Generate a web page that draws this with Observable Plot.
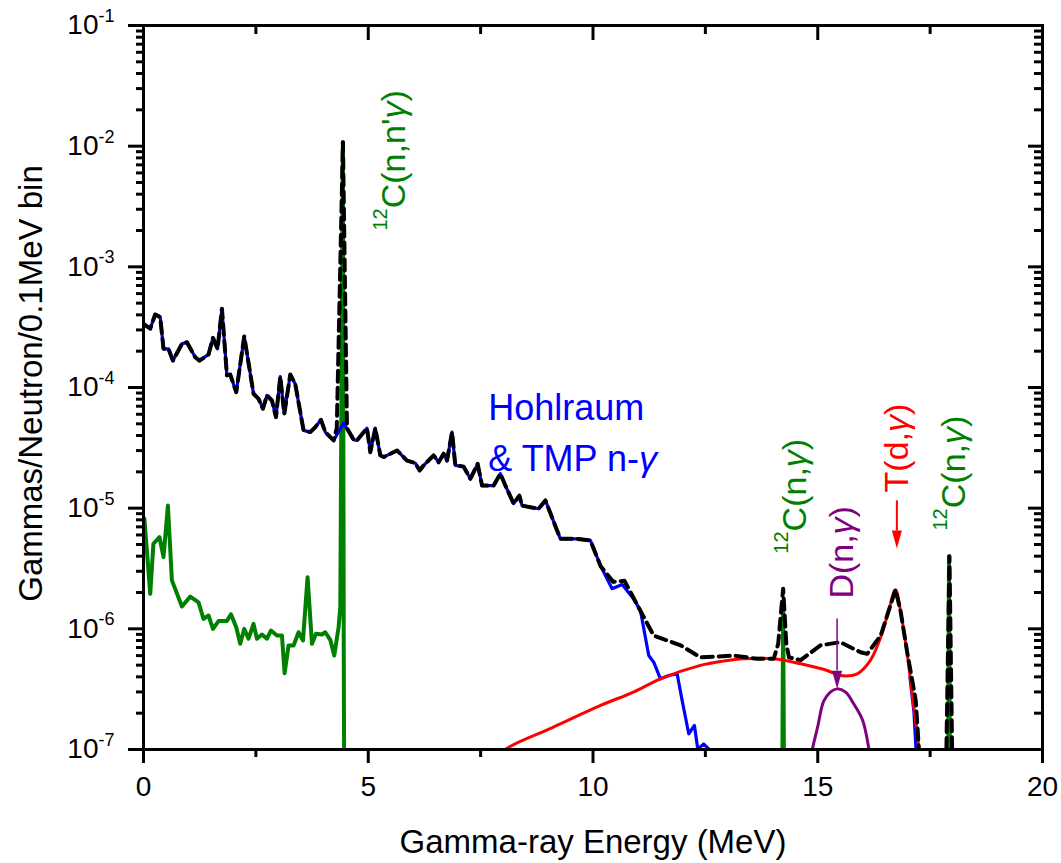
<!DOCTYPE html>
<html>
<head>
<meta charset="utf-8">
<script src="https://cdn.jsdelivr.net/npm/d3@7"></script>
<script src="https://cdn.jsdelivr.net/npm/@observablehq/plot@0.6"></script>
<style>
  body { margin: 0; background: #fff; }
</style>
</head>
<body>
<div id="chart"></div>
<script>
// ---------- DATA (energy MeV, gammas/neutron/0.1 MeV bin) ----------
const hohlraum = [
  [0.00,3.37e-4],[0.149,3.07e-4],[0.26,4.03e-4],[0.372,3.83e-4],[0.445,2.09e-4],[0.556,2.09e-4],
  [0.654,1.67e-4],[0.855,2.30e-4],[0.966,2.37e-4],[1.151,1.78e-4],[1.246,1.67e-4],[1.447,1.88e-4],
  [1.545,2.58e-4],[1.647,2.09e-4],[1.745,4.49e-4],[1.856,1.26e-4],[1.93,1.28e-4],[2.063,9.14e-5],
  [2.241,2.65e-4],[2.448,8.87e-5],[2.56,8.06e-5],[2.657,6.67e-5],[2.746,8.59e-5],[2.858,7.80e-5],
  [2.947,5.68e-5],[3.043,1.23e-4],[3.132,6.05e-5],[3.265,1.28e-4],[3.376,1.07e-4],[3.561,4.41e-5],
  [3.71,4.27e-5],[3.822,4.69e-5],[3.948,5.40e-5],[4.044,4.27e-5],[4.229,3.64e-5],[4.451,5.06e-5],
  [4.674,3.69e-5],[4.75,3.64e-5],[4.972,4.60e-5],[5.046,2.91e-5],[5.157,4.60e-5],[5.268,2.74e-5],
  [5.342,2.65e-5],[5.64,3.01e-5],[5.862,2.48e-5],[6.047,2.36e-5],[6.143,2.05e-5],[6.232,2.26e-5],
  [6.454,2.74e-5],[6.566,2.40e-5],[6.677,2.83e-5],[6.753,2.48e-5],[6.864,4.27e-5],[6.937,2.26e-5],
  [7.122,2.21e-5],[7.271,1.75e-5],[7.434,2.33e-5],[7.532,1.54e-5],[7.79,1.54e-5],[7.939,1.93e-5],
  [8.05,1.54e-5],[8.235,1.09e-5],[8.362,1.27e-5],[8.422,1.05e-5],[8.791,9.88e-6],[8.941,1.16e-5],
  [9.274,5.57e-6],[9.646,5.57e-6],[9.942,5.40e-6],[10.165,3.35e-6],[10.425,2.15e-6],[10.648,2.33e-6],
  [10.906,1.77e-6],[11.055,1.42e-6],[11.24,6.01e-7],[11.351,5.29e-7],[11.5,3.85e-7],[11.685,4.10e-7],
  [11.872,4.24e-7],[11.983,2.55e-7],[12.13,1.35e-7],[12.257,1.58e-7],[12.33,1.01e-7],[12.464,1.11e-7],
  [12.575,1.01e-7],[12.65,8e-8]
];
const hohlraumHigh = [[17.05,4.0e-7],[17.14,2.04e-7],[17.2,8e-8]];

const carbon = [
  [0.02,8.2e-6],[0.15,1.95e-6],[0.22,5.07e-6],[0.356,5.75e-6],[0.445,3.93e-6],[0.543,1.05e-5],
  [0.632,2.52e-6],[0.855,1.53e-6],[1.04,1.85e-6],[1.224,1.66e-6],[1.335,1.21e-6],[1.447,1.29e-6],
  [1.545,1.0e-6],[1.669,1.16e-6],[1.856,1.16e-6],[1.945,1.32e-6],[2.063,1.03e-6],[2.152,7.52e-7],
  [2.241,1.0e-6],[2.337,8.28e-7],[2.448,1.10e-6],[2.524,8.28e-7],[2.635,8.98e-7],[2.746,8.28e-7],
  [2.835,9.68e-7],[2.969,8.81e-7],[3.08,8.81e-7],[3.139,4.29e-7],[3.227,7.27e-7],[3.339,7.27e-7],
  [3.45,9.37e-7],[3.548,8.0e-7],[3.65,2.68e-6],[3.748,7.52e-7],[3.837,9.1e-7],[3.97,8.98e-7],
  [4.044,9.37e-7],[4.155,8.11e-7],[4.244,6.01e-7],[4.34,1.03e-6],[4.378,1.51e-6],[4.435,1.08e-2],
  [4.455,7e-7],[4.465,5e-8],[14.21,5e-8],[14.23,1.61e-6],[14.25,5e-8],[17.9,5e-8],
  [17.92,4.0e-6],[17.94,5e-8],[20,5e-8]
];

const tdGamma = [
  [7.9,8.5e-8],[8.05,1.0e-7],[9.1,1.52e-7],[10.17,2.32e-7],[10.9,2.99e-7],[11.5,3.85e-7],
  [12.39,4.98e-7],[12.9,5.4e-7],[13.35,5.65e-7],[14.02,5.65e-7],[14.62,5.13e-7],[15.21,4.52e-7],
  [15.5,4.10e-7],[15.88,4.24e-7],[16.17,5.47e-7],[16.4,8.53e-7],[16.58,1.42e-6],[16.73,2.11e-6],
  [16.84,1.42e-6],[16.99,6.21e-7],[17.1,2.90e-7],[17.25,1.04e-7],[17.35,5e-8]
];

const dnGamma = [
  [14.82,7e-8],[14.88,1.0e-7],[15.0,1.55e-7],[15.13,2.5e-7],[15.28,2.99e-7],[15.43,3.18e-7],
  [15.62,2.99e-7],[15.8,2.39e-7],[16.0,1.74e-7],[16.14,1.0e-7],[16.2,7e-8]
];

const totalSpike = [[4.3,4.6e-5],[4.437,1.08e-2],[4.527,4.6e-5]];
const totalTail = [
  [10.17,3.3e-6],[10.45,2.45e-6],[10.7,2.5e-6],[11.05,1.42e-6],[11.35,8.8e-7],[11.95,7.3e-7],
  [12.39,5.8e-7],[13.13,6.0e-7],[13.65,5.65e-7],[14.02,5.65e-7],[14.12,7.5e-7],[14.23,2.15e-6],
  [14.3,7.5e-7],[14.36,5.8e-7],[14.62,5.5e-7],[15.06,7.3e-7],[15.5,7.75e-7],[15.95,6.4e-7],
  [16.1,6.2e-7],[16.4,8.8e-7],[16.58,1.42e-6],[16.73,2.11e-6],[16.84,1.42e-6],[16.99,6.4e-7],
  [17.18,2.55e-7],[17.25,1.0e-7],[17.3,5e-8],[17.85,5e-8],[17.93,4.0e-6],[18.0,5e-8],[18.1,5e-8]
];

const annotations = [
  {label: "^{12}C(n,n'γ)", E: 5.58, v: 2.0e-3, color: "#008000"},
  {label: "^{12}C(n,γ)",   E: 14.50, v: 4.2e-6, color: "#008000"},
  {label: "D(n,γ)",        E: 15.55, v: 1.78e-6, color: "#800080"},
  {label: "T(d,γ)",        E: 16.77, v: 1.35e-5, color: "#ff0000"},
  {label: "^{12}C(n,γ)",   E: 18.04, v: 6.53e-6, color: "#008000"}
];
const arrows = [
  {E: 16.76, from: 1.16e-5, to: 6.53e-6, tip: 4.64e-6, color: "#ff0000", w: 2},
  {E: 15.43, from: 1.22e-6, to: 4.52e-7, tip: 3.18e-7, color: "#800080", w: 1.5}
];
const hohlraumLabel = {text: "Hohlraum\n& TMP n-γ", E: 7.67, v: 1.05e-4};

const xMajor = [0, 5, 10, 15, 20];
const xMinor = [2.5, 7.5, 12.5, 17.5];
const yMajor = [1e-7, 1e-6, 1e-5, 1e-4, 1e-3, 1e-2, 1e-1];
const yMinor = [];
for (let d = -7; d < -1; d++) for (let k = 2; k <= 9; k++) yMinor.push(k * Math.pow(10, d));

const xTitle = "Gamma-ray Energy (MeV)";
const yTitle = "Gammas/Neutron/0.1MeV bin";

// ---------- BUILD ----------
const rows = pairs => pairs.map(([E, v]) => ({E, v}));
const total = [
  ...hohlraum.filter(([E]) => E <= 4.25),
  ...totalSpike,
  ...hohlraum.filter(([E]) => E >= 4.6 && E <= 10.0),
  ...totalTail
];

const downTriangle = {
  draw(context) {
    context.moveTo(0, 0);
    context.lineTo(-5, -18);
    context.lineTo(5, -18);
    context.closePath();
  }
};

const blank = () => "";
const lineOpts = {x: "E", y: "v", clip: true};
const tickStyle = {strokeWidth: 3, label: null};

const chart = Plot.plot({
  width: 1061,
  height: 863,
  marginLeft: 143,
  marginRight: 19,
  marginTop: 25,
  marginBottom: 114,
  style: {fontFamily: "'Liberation Sans', Arial, sans-serif", background: "#fff", color: "#000"},
  x: {domain: [0, 20]},
  y: {type: "log", domain: [1e-7, 1e-1]},
  color: {type: "identity"},
  marks: [
    Plot.line(rows(carbon), {...lineOpts, stroke: "#008000", strokeWidth: 4}),
    Plot.line(rows(hohlraum), {...lineOpts, stroke: "#0000ff", strokeWidth: 3.2}),
    Plot.line(rows(hohlraumHigh), {...lineOpts, stroke: "#0000ff", strokeWidth: 3.2}),
    Plot.line(rows(dnGamma), {...lineOpts, stroke: "#800080", strokeWidth: 3, curve: "catmull-rom"}),
    Plot.line(rows(tdGamma), {...lineOpts, stroke: "#ff0000", strokeWidth: 3, curve: "catmull-rom"}),
    Plot.line(rows(total), {...lineOpts, stroke: "#000", strokeWidth: 4, strokeDasharray: "11,6"}),
    Plot.link(arrows, {x1: "E", x2: "E", y1: "from", y2: "to", stroke: "color", strokeWidth: "w"}),
    Plot.dot(arrows, {x: "E", y: "tip", symbol: downTriangle, fill: "color", stroke: "none"}),
    Plot.text(annotations, {x: "E", y: "v", text: "label", fill: "color", rotate: -90,
      textAnchor: "start", lineAnchor: "middle", fontSize: 34}),
    Plot.text([hohlraumLabel], {x: "E", y: "v", text: "text", fill: "#0000ff", textAnchor: "start",
      lineAnchor: "top", fontSize: 36, lineHeight: 1.39}),
    Plot.frame({strokeWidth: 3}),
    Plot.axisY(yMajor, {...tickStyle, anchor: "left", tickSize: 15, tickPadding: 14, fontSize: 28,
      tickFormat: d => `10^{${Math.round(Math.log10(d))}}`}),
    Plot.axisY(yMinor, {...tickStyle, anchor: "left", tickSize: 7, tickFormat: blank}),
    Plot.axisY(yMajor, {...tickStyle, anchor: "right", tickSize: -15, tickFormat: blank}),
    Plot.axisY(yMinor, {...tickStyle, anchor: "right", tickSize: -9, tickFormat: blank}),
    Plot.axisX(xMajor, {...tickStyle, anchor: "bottom", tickSize: 14, tickPadding: 13, fontSize: 28,
      tickFormat: d => String(d)}),
    Plot.axisX(xMinor, {...tickStyle, anchor: "bottom", tickSize: 8, tickFormat: blank}),
    Plot.axisX(xMajor, {...tickStyle, anchor: "top", tickSize: -14, tickFormat: blank}),
    Plot.axisX(xMinor, {...tickStyle, anchor: "top", tickSize: -8, tickFormat: blank}),
    Plot.text([xTitle], {frameAnchor: "bottom", textAnchor: "middle", lineAnchor: "middle",
      dy: 93.4, fontSize: 33}),
    Plot.text([yTitle], {frameAnchor: "left", textAnchor: "middle", lineAnchor: "middle",
      rotate: -90, dx: -111.6, dy: -4, fontSize: 33})
  ]
});

document.getElementById("chart").appendChild(chart);

const NS = "http://www.w3.org/2000/svg";
// Turn "^{...}" markers into real superscript tspans
chart.querySelectorAll("text").forEach(t => {
  const s = t.textContent;
  if (!s.includes("^{")) return;
  const fs = parseFloat(getComputedStyle(t).fontSize) || 28;
  const supSize = fs < 30 ? 18 : 20;
  const shift = fs < 30 ? 12.5 : 18;
  const parts = s.split(/(\^\{[^}]*\})/).filter(p => p.length);
  while (t.firstChild) t.removeChild(t.firstChild);
  let raised = false;
  for (const p of parts) {
    const ts = document.createElementNS(NS, "tspan");
    const m = p.match(/^\^\{([^}]*)\}$/);
    if (m) {
      ts.textContent = m[1];
      ts.setAttribute("font-size", supSize);
      ts.setAttribute("dy", -shift);
      raised = true;
    } else {
      ts.textContent = p;
      if (raised) { ts.setAttribute("dy", shift); raised = false; }
    }
    t.appendChild(ts);
  }
});
// Slant the Greek gamma like a Symbol-font glyph
const walker = document.createTreeWalker(chart, NodeFilter.SHOW_TEXT);
const textNodes = [];
while (walker.nextNode()) if (walker.currentNode.nodeValue.includes("γ")) textNodes.push(walker.currentNode);
textNodes.forEach(node => {
  const parts = node.nodeValue.split(/(γ)/).filter(p => p.length);
  const frag = document.createDocumentFragment();
  parts.forEach(p => {
    if (p === "γ") {
      const ts = document.createElementNS(NS, "tspan");
      ts.setAttribute("font-style", "italic");
      ts.textContent = p;
      frag.appendChild(ts);
    } else frag.appendChild(document.createTextNode(p));
  });
  node.parentNode.replaceChild(frag, node);
});
</script>
</body>
</html>
